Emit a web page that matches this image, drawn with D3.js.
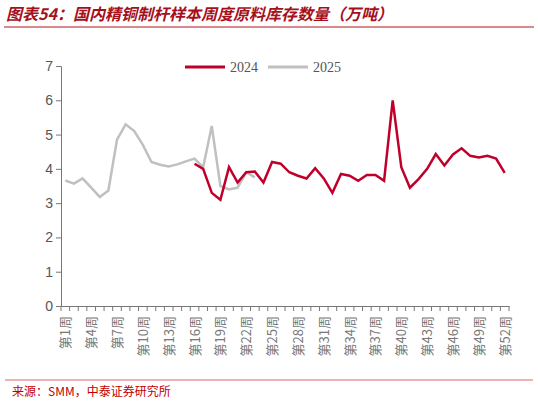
<!DOCTYPE html><html><head><meta charset="utf-8"><script src="https://cdn.jsdelivr.net/npm/d3@7"></script>
<style>body{margin:0;background:#fff}</style></head><body><svg id="c" width="538" height="404"></svg>
<script>
const weeks = d3.range(1,53).map(i=>"第"+i+"周");
const tickLabels = weeks.filter((d,i)=>i%3===0);
const s2024 = [null,null,null,null,null,null,null,null,null,null,null,null,null,null,null,4.15,4.0,3.3,3.1,4.05,3.6,3.9,3.92,3.6,4.2,4.15,3.9,3.8,3.72,4.02,3.72,3.3,3.85,3.8,3.65,3.82,3.82,3.65,6.0,4.05,3.45,3.7,4.0,4.43,4.1,4.42,4.6,4.38,4.33,4.38,4.3,3.88];
const s2025 = [3.66,3.57,3.72,3.45,3.18,3.37,4.85,5.3,5.1,4.7,4.2,4.12,4.07,4.13,4.22,4.3,4.05,5.25,3.5,3.4,3.45,3.9,3.75];
const yTicks = [0,1,2,3,4,5,6,7];
const svg=d3.select("#c");
const font="Liberation Sans, Arial, sans-serif";
svg.append("text").attr("x",6).attr("y",20).attr("fill","#a5101a").attr("font-size",16).attr("font-weight","bold").attr("font-style","italic").attr("font-family","Noto Sans CJK SC").text("图表54：国内精铜制杆样本周度原料库存数量（万吨）");
svg.append("line").attr("x1",4).attr("x2",534).attr("y1",27).attr("y2",27).attr("stroke","#b5121b").attr("stroke-width",1);
const x=d3.scaleBand().domain(weeks).range([61,509]);
const y=d3.scaleLinear().domain([0,7]).range([306,66]);
const ya=svg.append("g").attr("transform","translate(61,0)").call(d3.axisLeft(y).tickValues(yTicks).tickSize(5).tickFormat(d3.format("d")));
ya.selectAll("text").attr("font-size",14).attr("fill","#555").attr("font-family",font);
ya.selectAll("line,path").attr("stroke","#777");
const xa=svg.append("g").attr("transform","translate(0,306)").call(d3.axisBottom(x).tickValues([]).tickSizeOuter(0));
xa.select("path").attr("stroke","#777");
xa.selectAll(".b").data(d3.range(53)).enter().append("line").attr("x1",i=>61+i*x.step()).attr("x2",i=>61+i*x.step()).attr("y1",0).attr("y2",5).attr("stroke","#777");
xa.selectAll(".lbl").data(tickLabels).enter().append("text")
 .attr("transform",d=>`translate(${x(d)+x.bandwidth()/2+5},10) rotate(-90)`)
 .attr("text-anchor","end").attr("font-size",13).attr("fill","#777").attr("font-family","Noto Sans CJK SC").text(d=>d);
const line=d3.line().defined(d=>d!=null).x((d,i)=>x(weeks[i])+x.bandwidth()/2).y(d=>y(d));
svg.append("path").datum(s2025).attr("d",line).attr("fill","none").attr("stroke","#c0c0c0").attr("stroke-width",2.5);
svg.append("path").datum(s2024).attr("d",line).attr("fill","none").attr("stroke","#c0002a").attr("stroke-width",2.5);
const lg=[["2024","#c0002a",185],["2025","#c0c0c0",268]];
lg.forEach(([t,c,lx])=>{svg.append("line").attr("x1",lx).attr("x2",lx+40).attr("y1",67).attr("y2",67).attr("stroke",c).attr("stroke-width",3);
svg.append("text").attr("x",lx+45).attr("y",72).attr("font-size",14).attr("fill","#555").attr("font-family","Liberation Serif, serif").text(t);});
svg.append("line").attr("x1",5).attr("x2",533).attr("y1",380).attr("y2",380).attr("stroke","#e06666").attr("stroke-width",1);
svg.append("text").attr("x",12).attr("y",396).attr("font-size",12).attr("fill","#c00000").attr("font-family","Noto Sans CJK SC").text("来源：SMM，中泰证券研究所");
</script></body></html>
